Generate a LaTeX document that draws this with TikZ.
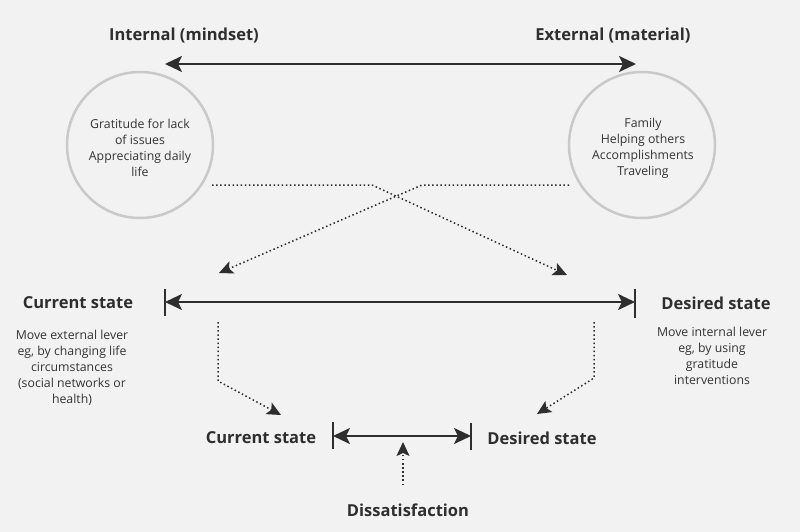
\documentclass[tikz,border=0pt]{standalone}
\usepackage{fontspec}
\setmainfont{Open Sans}
\usetikzlibrary{arrows.meta}
\definecolor{bg}{HTML}{F2F2F2}
\definecolor{ink}{HTML}{2E2E2E}
\definecolor{txt}{HTML}{333333}
\definecolor{ring}{HTML}{C9C9C9}
\begin{document}
\begin{tikzpicture}[x=1pt,y=-1pt,
  head/.style={font=\fontsize{16.5}{20}\selectfont\bfseries, text=ink, inner sep=0pt},
  small/.style={font=\fontsize{12.3}{16}\selectfont, text=txt, align=center, inner sep=0pt},
  ringc/.style={circle, draw=ring, line width=2.5pt, minimum size=146pt, inner sep=0pt},
  big/.style={draw=ink, line width=2.5pt, {Stealth[length=17pt,width=16pt,inset=4pt]}-{Stealth[length=17pt,width=16pt,inset=4pt]}},
  dotarrow/.style={draw=ink, line width=1.5pt, dash pattern=on 1.5pt off 2.6pt, -{Stealth[length=14pt,width=13pt,inset=3pt]}},
  barline/.style={draw=ink, line width=2pt}]
\fill[bg] (0,0) rectangle (800,532);
\useasboundingbox (0,0) rectangle (800,532);

% top headings
\node[head] (hint) at (184,36) {Internal (mindset)};
\node[head] (hext) at (613,36) {External (material)};
\coordinate (tl) at (165,64);
\coordinate (tr) at (636,64);
\draw[big] (tl) -- (tr);

% circles
\node[ringc] (lc) at (140,145) {};
\node[ringc] (rc) at (642,145) {};
\node[small] (lt) at (140,148) {Gratitude for lack\\of issues\\Appreciating daily\\life};
\node[small] (rt) at (643,148) {Family\\Helping others\\Accomplishments\\Traveling};

% crossing dotted arrows
\coordinate (ls) at (212,185);
\coordinate (lk) at (372,185);
\coordinate (rs) at (569,185);
\coordinate (rk) at (422,185);
\coordinate (mlt) at (219,273);
\coordinate (mrt) at (567,275);
\draw[dotarrow] (ls) -- (lk) -- (mrt);
\draw[dotarrow] (rs) -- (rk) -- (mlt);

% middle row
\node[head] (cs1) at (78,303) {Current state};
\node[head] (ds1) at (716,303) {Desired state};
\coordinate (bL) at (165,302);
\coordinate (bR) at (635,302);
\draw[barline] (165,289) -- (165,316);
\draw[barline] (635,289) -- (635,318);
\draw[big] (bL) -- (bR);
\node[small] (lnote) at (72,368) {Move external lever\\eg, by changing life\\circumstances\\(social networks or\\health)};
\node[small] (rnote) at (712,356) {Move internal lever\\eg, by using\\gratitude\\interventions};

% dotted arrows down
\coordinate (dl1) at (218,322);
\coordinate (dl2) at (218,381);
\coordinate (dlt) at (281,415);
\coordinate (dr1) at (594,322);
\coordinate (dr2) at (594,378);
\coordinate (drt) at (537,414);
\draw[dotarrow] (dl1) -- (dl2) -- (dlt);
\draw[dotarrow] (dr1) -- (dr2) -- (drt);

% bottom row
\node[head] (cs2) at (261,438) {Current state};
\node[head] (ds2) at (542,438) {Desired state};
\coordinate (sL) at (333,436);
\coordinate (sR) at (471,436);
\draw[barline] (333,422) -- (333,449);
\draw[barline] (471,423) -- (471,450);
\draw[big] (sL) -- (sR);

\node[head] (dis) at (408,510) {Dissatisfaction};
\coordinate (ub) at (403,485);
\coordinate (ut) at (403,442);
\draw[dotarrow] (ub) -- (ut);
\end{tikzpicture}
\end{document}
